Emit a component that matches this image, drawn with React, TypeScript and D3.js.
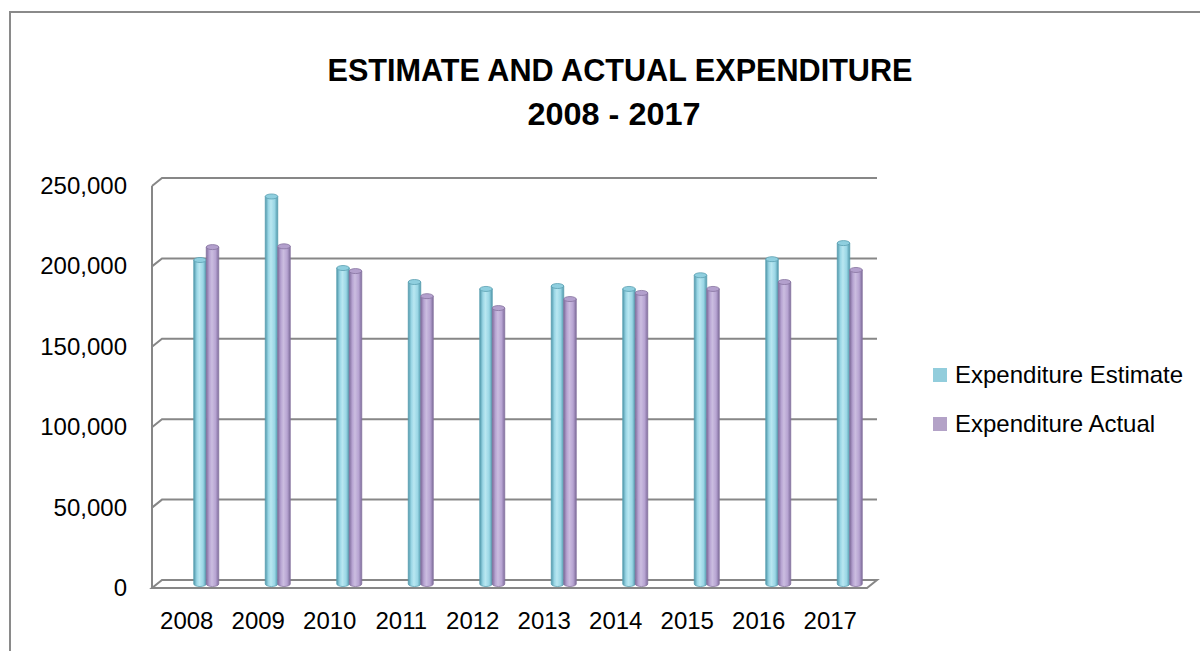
import React from "react";
import * as d3 from "d3";

const years = ["2008", "2009", "2010", "2011", "2012", "2013", "2014", "2015", "2016", "2017"];
const estimate = [201500, 241000, 196500, 187800, 183500, 185300, 183500, 192000, 202000, 212000];
const actual = [209500, 210000, 194600, 179000, 171600, 177200, 181000, 183500, 187800, 195300];
const yTicks = [0, 50000, 100000, 150000, 200000, 250000];
const seriesNames = ["Expenditure Estimate", "Expenditure Actual"];

const W = 1200;
const H = 651;
const font = "'Liberation Sans', Arial, sans-serif";

// front edge of the 3d floor, depth offset to the back wall
const front = { left: 152, right: 867, bottom: 588, top: 186 };
const depth = { dx: 10, dy: -8 };

const yFront = d3.scaleLinear().domain([0, 250000]).range([front.bottom, front.top]);
// bars stand half way into the floor
const yMid = d3.scaleLinear().domain([0, 250000]).range([front.bottom + depth.dy / 2, front.top + depth.dy / 2]);
const x = d3.scaleBand().domain(years).range([front.left, front.right]);
const barW = 12.5;
const barShift = 18.5;

const fmt = d3.format(",");

const palettes = [
  { edge: "#4f98ab", mid: "#9ad6e5", light: "#b9e7f1", top: "#8fcfdf", stroke: "#5a9fb1", legend: "#92cddc" },
  { edge: "#7f6c9c", mid: "#b7a4d2", light: "#cbbde0", top: "#b3a0cd", stroke: "#86739f", legend: "#b3a2c7" },
];

const Cylinder = ({ cx, v, s }: { cx: number; v: number; s: number }) => {
  const base = yMid(0);
  const top = yMid(v);
  const rx = barW / 2;
  const ry = 2.5;
  return (
    <g>
      <path d={`M${cx - rx},${top}V${base}A${rx},${ry} 0 0 0 ${cx + rx},${base}V${top}Z`} fill={`url(#grad${s})`} stroke={palettes[s].stroke} strokeWidth={0.8} />
      <ellipse cx={cx} cy={top} rx={rx} ry={ry} fill={palettes[s].top} stroke={palettes[s].stroke} strokeWidth={0.8} />
    </g>
  );
};

export default function App() {
  const grid = "#878787";
  return (
    <svg width={W} height={H} style={{ position: "absolute", left: 0, top: 0, background: "#fff" }}>
      <defs>
        {palettes.map((p, i) => (
          <linearGradient key={i} id={`grad${i}`} x1="0" x2="1" y1="0" y2="0">
            <stop offset="0" stopColor={p.edge} />
            <stop offset="0.25" stopColor={p.mid} />
            <stop offset="0.45" stopColor={p.light} />
            <stop offset="0.75" stopColor={p.mid} />
            <stop offset="1" stopColor={p.edge} />
          </linearGradient>
        ))}
      </defs>
      <rect x={10} y={12} width={W + 20} height={H + 20} fill="none" stroke="#8a8a8a" strokeWidth={2} />

      <text x={620} y={81} textAnchor="middle" fontFamily={font} fontWeight="bold" fontSize={31} textLength={585} lengthAdjust="spacingAndGlyphs">
        ESTIMATE AND ACTUAL EXPENDITURE
      </text>
      <text x={614} y={125} textAnchor="middle" fontFamily={font} fontWeight="bold" fontSize={31} textLength={173} lengthAdjust="spacingAndGlyphs">
        2008 - 2017
      </text>

      {/* walls and gridlines */}
      {yTicks.slice(1).map((t) => (
        <path
          key={t}
          d={`M${front.left},${yFront(t)}L${front.left + depth.dx},${yFront(t) + depth.dy}H${front.right + depth.dx}`}
          fill="none"
          stroke={grid}
          strokeWidth={2}
        />
      ))}
      <line x1={front.left} x2={front.left} y1={yFront(250000)} y2={yFront(0)} stroke={grid} strokeWidth={2} />
      <path
        d={`M${front.left},${front.bottom}H${front.right}L${front.right + depth.dx},${front.bottom + depth.dy}H${front.left + depth.dx}Z`}
        fill="none"
        stroke={grid}
        strokeWidth={2}
      />

      {yTicks.map((t) => (
        <text key={t} x={127} y={yFront(t) + 8} textAnchor="end" fontFamily={font} fontSize={24} fill="#000">
          {fmt(t)}
        </text>
      ))}

      {years.map((yr, i) => {
        const c = (x(yr) ?? 0) + x.bandwidth() / 2;
        return (
          <g key={yr}>
            <Cylinder cx={c + barShift - barW / 2} v={estimate[i]} s={0} />
            <Cylinder cx={c + barShift + barW / 2} v={actual[i]} s={1} />
            <text x={c - 1} y={629} textAnchor="middle" fontFamily={font} fontSize={24} fill="#000">
              {yr}
            </text>
          </g>
        );
      })}

      {seriesNames.map((n, i) => (
        <g key={n} transform={`translate(933,${368 + i * 49})`}>
          <rect width={14} height={14} fill={palettes[i].legend} />
          <text x={22} y={15} fontFamily={font} fontSize={24} fill="#000">
            {n}
          </text>
        </g>
      ))}
    </svg>
  );
}
